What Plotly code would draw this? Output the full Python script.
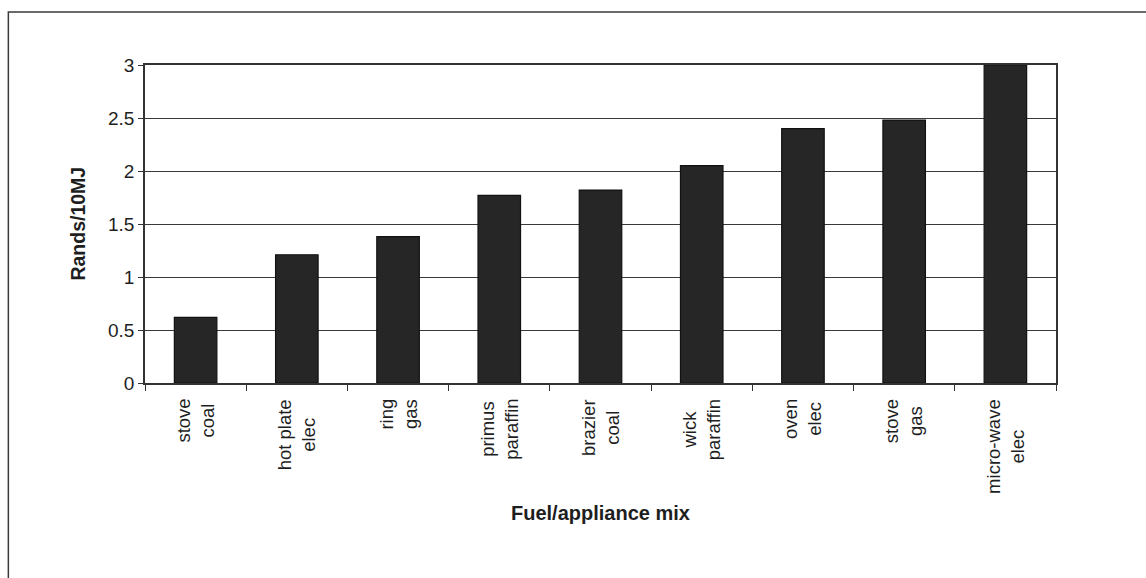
import plotly.graph_objects as go

# Cost of useful energy per fuel/appliance combination
appliances = ["stove", "hot plate", "ring", "primus", "brazier", "wick", "oven", "stove", "micro-wave"]
fuels = ["coal", "elec", "gas", "paraffin", "coal", "paraffin", "elec", "gas", "elec"]
rands_per_10mj = [0.62, 1.21, 1.38, 1.77, 1.82, 2.05, 2.40, 2.48, 3.00]
y_ticks = [0, 0.5, 1, 1.5, 2, 2.5, 3]

categories = [f"{a} {f}" for a, f in zip(appliances, fuels)]
font_family = "Liberation Sans, Arial, sans-serif"
text_color = "#1e1e1e"

fig = go.Figure(
    go.Bar(
        x=categories,
        y=rands_per_10mj,
        marker=dict(color="#262626", line=dict(color="#111111", width=1.2)),
        width=0.42,
    )
)

# Two-line category labels, rotated and centred under each bar
annotations = [
    dict(
        x=cat, xref="x", y=-0.044, yref="paper",
        text=f"{a}<br>{f}", textangle=-90,
        xanchor="center", yanchor="top", align="center",
        showarrow=False,
        font=dict(family=font_family, size=18.5, color=text_color),
    )
    for cat, a, f in zip(categories, appliances, fuels)
]
annotations.append(dict(
    x=-0.074, xref="paper", y=0.5, yref="paper",
    text="<b>Rands/10MJ</b>", textangle=-90,
    xanchor="center", yanchor="middle", showarrow=False,
    font=dict(family=font_family, size=19.5, color=text_color),
))
annotations.append(dict(
    x=0.5, xref="paper", y=-0.41, yref="paper",
    text="<b>Fuel/appliance mix</b>",
    xanchor="center", yanchor="middle", showarrow=False,
    font=dict(family=font_family, size=20, color=text_color),
))

fig.update_layout(
    width=1146, height=578,
    margin=dict(l=145, r=90, t=65, b=195),
    paper_bgcolor="white", plot_bgcolor="white",
    showlegend=False,
    annotations=annotations,
    shapes=[dict(
        type="rect", xref="paper", yref="paper",
        x0=-0.150, x1=1.12, y0=-0.70, y1=1.167,
        line=dict(color="#3a3a3a", width=1.5), fillcolor="rgba(0,0,0,0)",
        layer="below",
    )],
    xaxis=dict(
        showticklabels=False, showgrid=False,
        ticks="outside", tickson="boundaries", ticklen=6, tickcolor="#333333",
        showline=True, linecolor="#333333", linewidth=1.5, mirror=True,
    ),
    yaxis=dict(
        range=[0, 3], tickvals=y_ticks, ticktext=[f"{v:g}" for v in y_ticks],
        ticks="outside", ticklen=5, tickcolor="#333333",
        showgrid=True, gridcolor="#3a3a3a", gridwidth=1,
        showline=True, linecolor="#333333", linewidth=1.5, mirror=True,
        zeroline=False,
        tickfont=dict(family=font_family, size=19, color=text_color),
    ),
)

fig.write_html("out.html")
